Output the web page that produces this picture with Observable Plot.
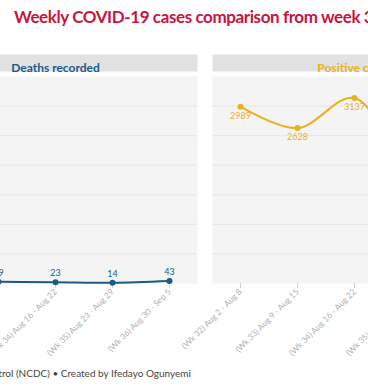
<!DOCTYPE html>
<html>
<head>
<meta charset="utf-8">
<script src="https://cdn.jsdelivr.net/npm/d3@7"></script>
<script src="https://cdn.jsdelivr.net/npm/@observablehq/plot@0.6"></script>
<style>
  html, body { margin: 0; padding: 0; width: 368px; height: 385px; overflow: hidden; background: #fff; position: relative; font-family: Lato, "Noto Sans", sans-serif; }
  #title { position: absolute; left: 14px; top: 6px; white-space: nowrap; font-weight: 700; font-size: 17px; letter-spacing: -0.4px; color: #c8143f; }
  #chart { position: absolute; left: -87px; top: 40px; width: 583px; }
  #chart svg { max-width: none; }
  #caption { position: absolute; right: 177px; top: 367px; white-space: nowrap; font-size: 10px; color: #444; }
</style>
</head>
<body>
<div id="title">Weekly COVID-19 cases comparison from week 32 to week 36</div>
<div id="chart"></div>
<div id="caption">Source: Nigeria Centre for Disease Control (NCDC) • Created by Ifedayo Ogunyemi</div>
<script>
const metrics = ["Deaths recorded", "Positive cases"];
const weeks = [
  "(Wk 32) Aug 2 - Aug 8",
  "(Wk 33) Aug 9 - Aug 15",
  "(Wk 34) Aug 16 - Aug 22",
  "(Wk 35) Aug 23 - Aug 29",
  "(Wk 36) Aug 30 - Sep 5"
];
const deaths = [36, 29, 23, 14, 43];
const positives = [2989, 2628, 3137, 1800, 1300];
const metricColors = ["#1d5a84", "#e8b11e"];

const rows = [
  ...weeks.map((w, i) => ({metric: metrics[0], week: w, value: deaths[i]})),
  ...weeks.map((w, i) => ({metric: metrics[1], week: w, value: positives[i]}))
];

const chart = Plot.plot({
  width: 583,
  height: 323,
  marginLeft: 0,
  marginRight: 0,
  marginTop: 36,
  marginBottom: 80,
  style: {fontFamily: "Lato, 'Noto Sans', sans-serif", background: "transparent", maxWidth: "none"},
  fx: {domain: metrics, axis: null, paddingInner: 15 / 299, paddingOuter: 0},
  x: {domain: weeks, type: "point", padding: 0.47, label: null},
  y: {domain: [0, 3500], axis: null},
  color: {domain: metrics, range: metricColors},
  marks: [
    Plot.frame({fill: "#f4f4f4"}),
    Plot.frame({fill: "#dfe1e3", insetTop: -22, insetBottom: 212}),
    Plot.text(metrics, {fx: d => d, text: d => d, fill: d => d, frameAnchor: "top", dy: -13, fontSize: 12, fontWeight: 700}),
    Plot.gridY({ticks: d3.range(500, 3500, 500), stroke: "#e6e6e6", strokeOpacity: 1}),
    Plot.axisX({tickRotate: -45, tickSize: 5, tickPadding: 2, fontSize: 8.3, stroke: "#d4d4d4", color: "#b0b0b0", label: null}),
    Plot.line(rows, {fx: "metric", x: "week", y: "value", stroke: "metric", strokeWidth: 2, curve: "catmull-rom"}),
    Plot.dot(rows, {fx: "metric", x: "week", y: "value", fill: "metric", r: 3}),
    Plot.text(rows.filter(d => d.metric === metrics[0]), {fx: "metric", x: "week", y: "value", text: d => String(d.value), fill: "metric", dy: -9, fontSize: 9}),
    Plot.text(rows.filter(d => d.metric === metrics[1]), {fx: "metric", x: "week", y: "value", text: d => String(d.value), fill: "metric", dy: 9, fontSize: 9})
  ]
});
document.getElementById("chart").appendChild(chart);
</script>
</body>
</html>
